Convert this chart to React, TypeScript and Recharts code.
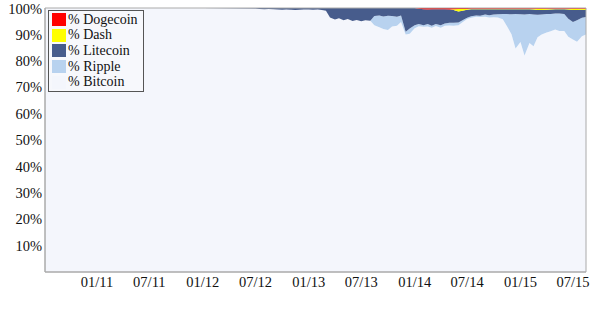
import React from 'react';
import { AreaChart, Area, XAxis, YAxis, ReferenceArea } from 'recharts';

// half-monthly samples of market share (%) per coin
const dates = [
  '2010-07-06', '2011-01-01', '2011-07-01', '2012-01-01',
  '2012-07-01', '2012-07-15', '2012-08-01', '2012-08-15', '2012-09-01', '2012-09-15',
  '2012-10-01', '2012-10-15', '2012-11-01', '2012-11-15', '2012-12-01', '2012-12-15',
  '2013-01-01', '2013-01-15', '2013-02-01', '2013-02-15', '2013-03-01', '2013-03-15',
  '2013-04-01', '2013-04-15', '2013-05-01', '2013-05-15', '2013-06-01', '2013-06-15',
  '2013-07-01', '2013-07-15', '2013-08-01', '2013-08-15', '2013-09-01', '2013-09-15',
  '2013-10-01', '2013-10-15', '2013-11-01', '2013-11-15', '2013-12-01', '2013-12-15',
  '2014-01-01', '2014-01-15', '2014-02-01', '2014-02-15', '2014-03-01', '2014-03-15',
  '2014-04-01', '2014-04-15', '2014-05-01', '2014-05-15', '2014-06-01', '2014-06-15',
  '2014-07-01', '2014-07-15', '2014-08-01', '2014-08-15', '2014-09-01', '2014-09-15',
  '2014-10-01', '2014-10-15', '2014-11-01', '2014-11-15', '2014-12-01', '2014-12-15',
  '2015-01-01', '2015-01-15', '2015-02-01', '2015-02-15', '2015-03-01', '2015-03-15',
  '2015-04-01', '2015-04-15', '2015-05-01', '2015-05-15', '2015-06-01', '2015-06-15',
  '2015-07-01', '2015-07-15', '2015-08-01', '2015-08-15',
];

const bitcoin = [
  100, 100, 100, 100,
  99.8, 99.6, 99.5, 99.6, 99.5, 99.4, 99.3, 99.4, 99.3, 99.2, 99.3, 99.4,
  99.4, 99.3, 99.4, 99.2, 99.0, 96.4, 95.6, 96.1, 95.4, 95.8, 95.1, 95.5,
  95.0, 95.4, 95.2, 93.5, 92.7, 92.0, 91.7, 93.0, 93.3, 94.7, 90.0, 90.2,
  92.3, 93.1, 92.9, 93.0, 92.5, 93.2, 92.5, 93.3, 93.4, 93.3, 93.5, 94.6,
  95.8, 96.3, 96.7, 96.6, 96.7, 96.4, 96.5, 96.4, 95.7, 93.2, 90.1, 84.7,
  87.1, 82.0, 86.7, 85.5, 88.9, 90.0, 90.7, 91.2, 91.9, 91.3, 91.3, 89.1,
  88.1, 87.2, 89.3, 90.0,
];

const ripple = [
  0, 0, 0, 0,
  0, 0, 0, 0, 0, 0, 0, 0, 0, 0, 0, 0,
  0, 0, 0, 0, 0, 0, 0, 0, 0, 0, 0, 0,
  0, 0, 0, 3.5, 4.5, 4.8, 5.4, 4.0, 3.4, 2.5, 1.0, 2.0,
  1.2, 0.8, 0.6, 0.9, 0.8, 0.7, 1.0, 0.8, 1.0, 1.1, 1.0, 0.8,
  0.5, 0.6, 0.5, 0.5, 0.8, 0.9, 1.0, 1.2, 2.0, 4.5, 7.5, 13.0,
  10.5, 15.5, 11.0, 12.0, 8.5, 7.5, 7.0, 6.5, 6.0, 6.6, 6.4, 6.8,
  6.6, 8.2, 7.0, 6.6,
];

const litecoin = [
  0, 0, 0, 0,
  0.2, 0.4, 0.5, 0.4, 0.5, 0.6, 0.7, 0.6, 0.7, 0.8, 0.7, 0.6,
  0.6, 0.7, 0.6, 0.8, 1.0, 3.6, 4.4, 3.9, 4.6, 4.2, 4.9, 4.5,
  5.0, 4.6, 4.8, 3.0, 2.8, 3.2, 2.9, 3.0, 3.3, 2.8, 9.0, 7.8,
  6.5, 5.8, 6.0, 5.5, 6.2, 5.6, 6.0, 5.4, 5.0, 4.8, 4.2, 3.6,
  3.0, 2.6, 2.3, 2.4, 2.0, 2.2, 2.0, 1.9, 1.8, 1.8, 1.9, 1.8,
  1.9, 2.0, 1.8, 1.9, 1.8, 1.7, 1.6, 1.7, 1.6, 1.6, 1.8, 3.5,
  4.5, 3.8, 3.0, 2.6,
];

const dash = [
  0, 0, 0, 0,
  0, 0, 0, 0, 0, 0, 0, 0, 0, 0, 0, 0,
  0, 0, 0, 0, 0, 0, 0, 0, 0, 0, 0, 0,
  0, 0, 0, 0, 0, 0, 0, 0, 0, 0, 0, 0,
  0, 0, 0, 0, 0, 0, 0, 0, 0, 0.3, 0.9, 0.6,
  0.3, 0.2, 0.2, 0.2, 0.2, 0.2, 0.2, 0.2, 0.2, 0.2, 0.2, 0.2,
  0.2, 0.2, 0.2, 0.3, 0.5, 0.5, 0.4, 0.3, 0.2, 0.2, 0.2, 0.3,
  0.5, 0.5, 0.4, 0.5,
];

const dogecoin = [
  0, 0, 0, 0,
  0, 0, 0, 0, 0, 0, 0, 0, 0, 0, 0, 0,
  0, 0, 0, 0, 0, 0, 0, 0, 0, 0, 0, 0,
  0, 0, 0, 0, 0, 0, 0, 0, 0, 0, 0, 0,
  0, 0.3, 0.5, 0.6, 0.5, 0.5, 0.5, 0.5, 0.6, 0.5, 0.4, 0.4,
  0.4, 0.3, 0.3, 0.3, 0.3, 0.3, 0.3, 0.3, 0.3, 0.3, 0.3, 0.3,
  0.3, 0.3, 0.3, 0.3, 0.3, 0.3, 0.3, 0.3, 0.3, 0.3, 0.3, 0.3,
  0.3, 0.3, 0.3, 0.3,
];

const xTickDates = ['2011-01-01', '2011-07-01', '2012-01-01', '2012-07-01', '2013-01-01',
  '2013-07-01', '2014-01-01', '2014-07-01', '2015-01-01', '2015-07-01'];
const yTicks = [10, 20, 30, 40, 50, 60, 70, 80, 90, 100];

const series = [
  { key: 'dogecoin', name: '% Dogecoin', color: '#ff0000' },
  { key: 'dash', name: '% Dash', color: '#ffff00' },
  { key: 'litecoin', name: '% Litecoin', color: '#475c8c' },
  { key: 'ripple', name: '% Ripple', color: '#b8d2ef' },
  { key: 'bitcoin', name: '% Bitcoin', color: '#f4f6fc' },
];

const toTime = (d: string) => new Date(d).getTime();

const data = dates.map((d, i) => ({
  t: toTime(d),
  bitcoin: bitcoin[i],
  ripple: ripple[i],
  litecoin: litecoin[i],
  dash: dash[i],
  dogecoin: dogecoin[i],
}));

const fmtDate = (t: number) => {
  const d = new Date(t);
  const m = String(d.getUTCMonth() + 1).padStart(2, '0');
  const y = String(d.getUTCFullYear() % 100).padStart(2, '0');
  return `${m}/${y}`;
};

const font = '"Liberation Serif", "Times New Roman", serif';

const App: React.FC = () => {
  const stackOrder = [...series].reverse();
  return (
    <div style={{ position: 'relative', width: 600, height: 309, fontFamily: font }}>
      <style>{'body { margin: 0; }'}</style>
      <AreaChart width={600} height={309} data={data} margin={{ top: 8, right: 14, bottom: 7, left: 0 }}>
        <XAxis
          dataKey="t"
          type="number"
          scale="time"
          domain={[toTime('2010-07-06'), toTime('2015-08-15')]}
          ticks={xTickDates.map(toTime)}
          tickFormatter={fmtDate}
          tickLine={false}
          tickSize={0}
          tickMargin={5}
          height={30}
          stroke="#aaaaaa"
          tick={{ fill: '#111', fontSize: 14.5, fontFamily: font }}
        />
        <YAxis
          type="number"
          domain={[0, 100]}
          ticks={yTicks}
          tickFormatter={(v: number) => `${v}%`}
          tickLine={false}
          tickSize={0}
          tickMargin={3}
          width={45}
          stroke="#aaaaaa"
          tick={{ fill: '#111', fontSize: 14.5, fontFamily: font }}
        />
        {stackOrder.map((s) => (
          <Area
            key={s.key}
            type="linear"
            dataKey={s.key}
            name={s.name}
            stackId="1"
            stroke="none"
            fill={s.color}
            fillOpacity={1}
            isAnimationActive={false}
          />
        ))}
        <ReferenceArea
          x1={toTime('2010-07-06')}
          x2={toTime('2015-08-15')}
          y1={0}
          y2={100}
          fill="none"
          stroke="#aaaaaa"
          strokeWidth={1}
        />
      </AreaChart>
      <div
        style={{
          position: 'absolute',
          left: 48,
          top: 10,
          width: 96,
          padding: '1px 3px 1px 3px',
          border: '1px solid #555',
          background: '#f7f8fc',
          boxSizing: 'border-box',
        }}
      >
        {series.map((s) => (
          <div
            key={s.key}
            style={{ display: 'flex', alignItems: 'center', height: 15.6, fontSize: 14, color: '#111', whiteSpace: 'nowrap' }}
          >
            <span style={{ display: 'inline-block', flex: 'none', width: 14, height: 13, background: s.color, marginRight: 2 }} />
            <span>{s.name}</span>
          </div>
        ))}
      </div>
    </div>
  );
};

export default App;
